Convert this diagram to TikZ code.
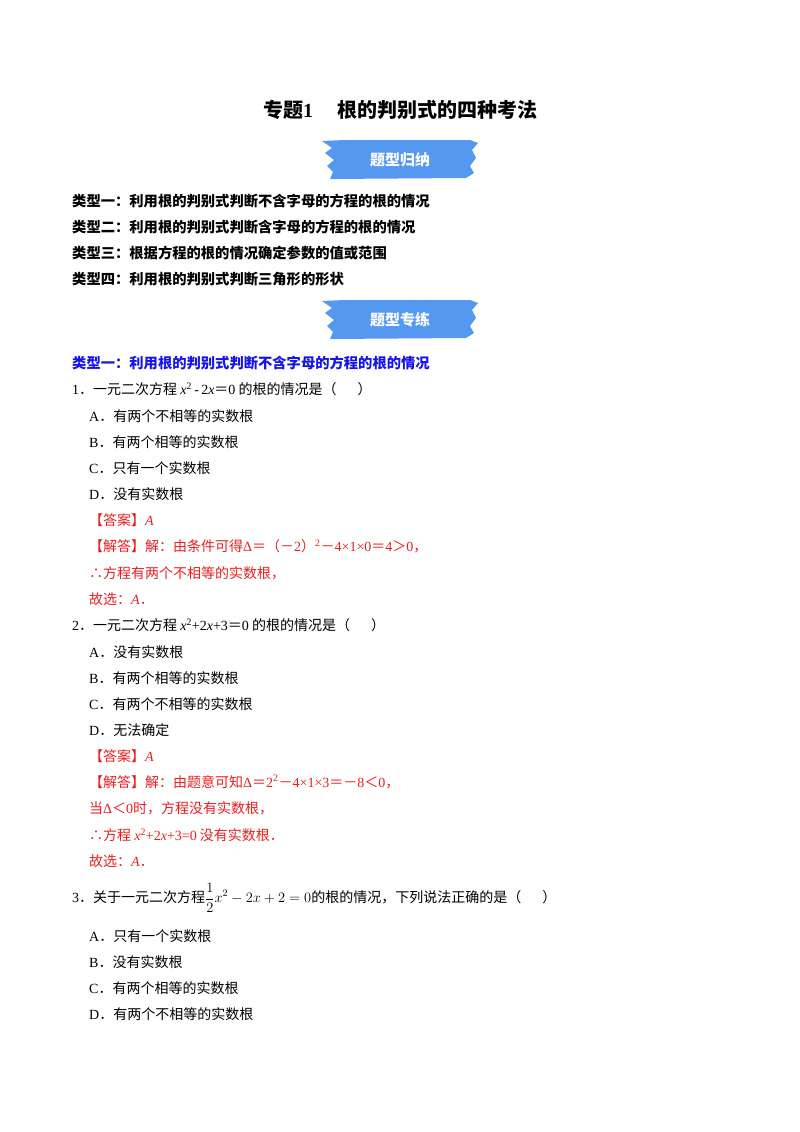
\documentclass[tikz,border=0pt]{standalone}
\usepackage{fontspec}
\setmainfont{Noto Sans CJK SC}
\newfontfamily\lt{Liberation Serif}
\definecolor{ban}{RGB}{84,152,240}
\definecolor{ansred}{RGB}{235,30,30}
\definecolor{hblue}{RGB}{20,20,235}
\tikzset{
  t/.style={anchor=west,inner sep=0pt,font=\fontsize{14}{16}\selectfont},
  hd/.style={anchor=west,inner sep=0pt,font=\fontsize{14.3}{16}\selectfont\bfseries},
  ans/.style={t,text=ansred},
  bantext/.style={text=white,font=\fontsize{15}{17}\selectfont\bfseries}
}
\newcommand{\vx}[1]{{\lt\itshape #1}}
\newcommand{\rn}[1]{{\lt #1}}
\begin{document}
\begin{tikzpicture}[x=1pt,y=-1pt]
\useasboundingbox (0,0) rectangle (800,1132);
\node[anchor=center,inner sep=0pt,font=\fontsize{20}{22}\selectfont\bfseries] (title) at (400,110) {专题\rn{\bfseries 1}\hspace{1.2em}根的判别式的四种考法};
% banners
\foreach \yy/\txt/\nm in {160/题型归纳/b1, 320/题型专练/b2}{
  \fill[ban] (322,\yy-19) -- (345,\yy-20) -- (470,\yy-20) -- (478,\yy-17) -- (472,\yy-10) -- (476,\yy-2) -- (470,\yy+6) -- (474,\yy+13) -- (466,\yy+18) -- (330,\yy+19) -- (333,\yy+12) -- (327,\yy+6) -- (334,\yy) -- (325,\yy-7) -- (332,\yy-12) -- cycle;
  \node[bantext] (\nm) at (400,\yy) {\txt};
}
\node[hd] (k1) at (72,201) {类型一：利用根的判别式判断不含字母的方程的根的情况};
\node[hd] (k2) at (72,227) {类型二：利用根的判别式判断含字母的方程的根的情况};
\node[hd] (k3) at (72,253) {类型三：根据方程的根的情况确定参数的值或范围};
\node[hd] (k4) at (72,279) {类型四：利用根的判别式判断三角形的形状};
\node[hd,text=hblue] (h1) at (72,363) {类型一：利用根的判别式判断不含字母的方程的根的情况};
% Q1
\node[t] (q1) at (72,389) {\rn{1}．一元二次方程 \vx{x}\rn{\textsuperscript{2}}\,\rn{-}\,\rn{2}\vx{x}＝\rn{0} 的根的情况是（\hspace{1.5em}）};
\node[t] (q1a) at (89,416) {\rn{A}．有两个不相等的实数根};
\node[t] (q1b) at (89,442) {\rn{B}．有两个相等的实数根};
\node[t] (q1c) at (89,468) {\rn{C}．只有一个实数根};
\node[t] (q1d) at (89,494) {\rn{D}．没有实数根};
\node[ans] (q1e) at (89,520) {【答案】\vx{A}};
\node[ans] (q1f) at (89,546) {【解答】解：由条件可得\rn{Δ}＝（－\rn{2}）\rn{\textsuperscript{2}}－\rn{4×1×0}＝\rn{4}＞\rn{0}，};
\node[ans] (q1g) at (89,573) {∴方程有两个不相等的实数根，};
\node[ans] (q1h) at (89,599) {故选：\vx{A}．};
% Q2
\node[t] (q2) at (72,625) {\rn{2}．一元二次方程 \vx{x}\rn{\textsuperscript{2}+2}\vx{x}\rn{+3}＝\rn{0} 的根的情况是（\hspace{1.5em}）};
\node[t] (q2a) at (89,652) {\rn{A}．没有实数根};
\node[t] (q2b) at (89,678) {\rn{B}．有两个相等的实数根};
\node[t] (q2c) at (89,704) {\rn{C}．有两个不相等的实数根};
\node[t] (q2d) at (89,730) {\rn{D}．无法确定};
\node[ans] (q2e) at (89,756) {【答案】\vx{A}};
\node[ans] (q2f) at (89,782) {【解答】解：由题意可知\rn{Δ}＝\rn{2\textsuperscript{2}}－\rn{4×1×3}＝－\rn{8}＜\rn{0}，};
\node[ans] (q2g) at (89,808) {当\rn{Δ}＜\rn{0}时，方程没有实数根，};
\node[ans] (q2h) at (89,835) {∴方程 \vx{x}\rn{\textsuperscript{2}+2}\vx{x}\rn{+3=0} 没有实数根．};
\node[ans] (q2i) at (89,861) {故选：\vx{A}．};
% Q3
\node[t] (q3) at (72,898) {\rn{3}．关于一元二次方程$\displaystyle\frac{1}{2}x^2-2x+2=0$的根的情况，下列说法正确的是（\hspace{1.5em}）};
\node[t] (q3a) at (89,936) {\rn{A}．只有一个实数根};
\node[t] (q3b) at (89,962) {\rn{B}．没有实数根};
\node[t] (q3c) at (89,988) {\rn{C}．有两个相等的实数根};
\node[t] (q3d) at (89,1014) {\rn{D}．有两个不相等的实数根};
\end{tikzpicture}
\end{document}
